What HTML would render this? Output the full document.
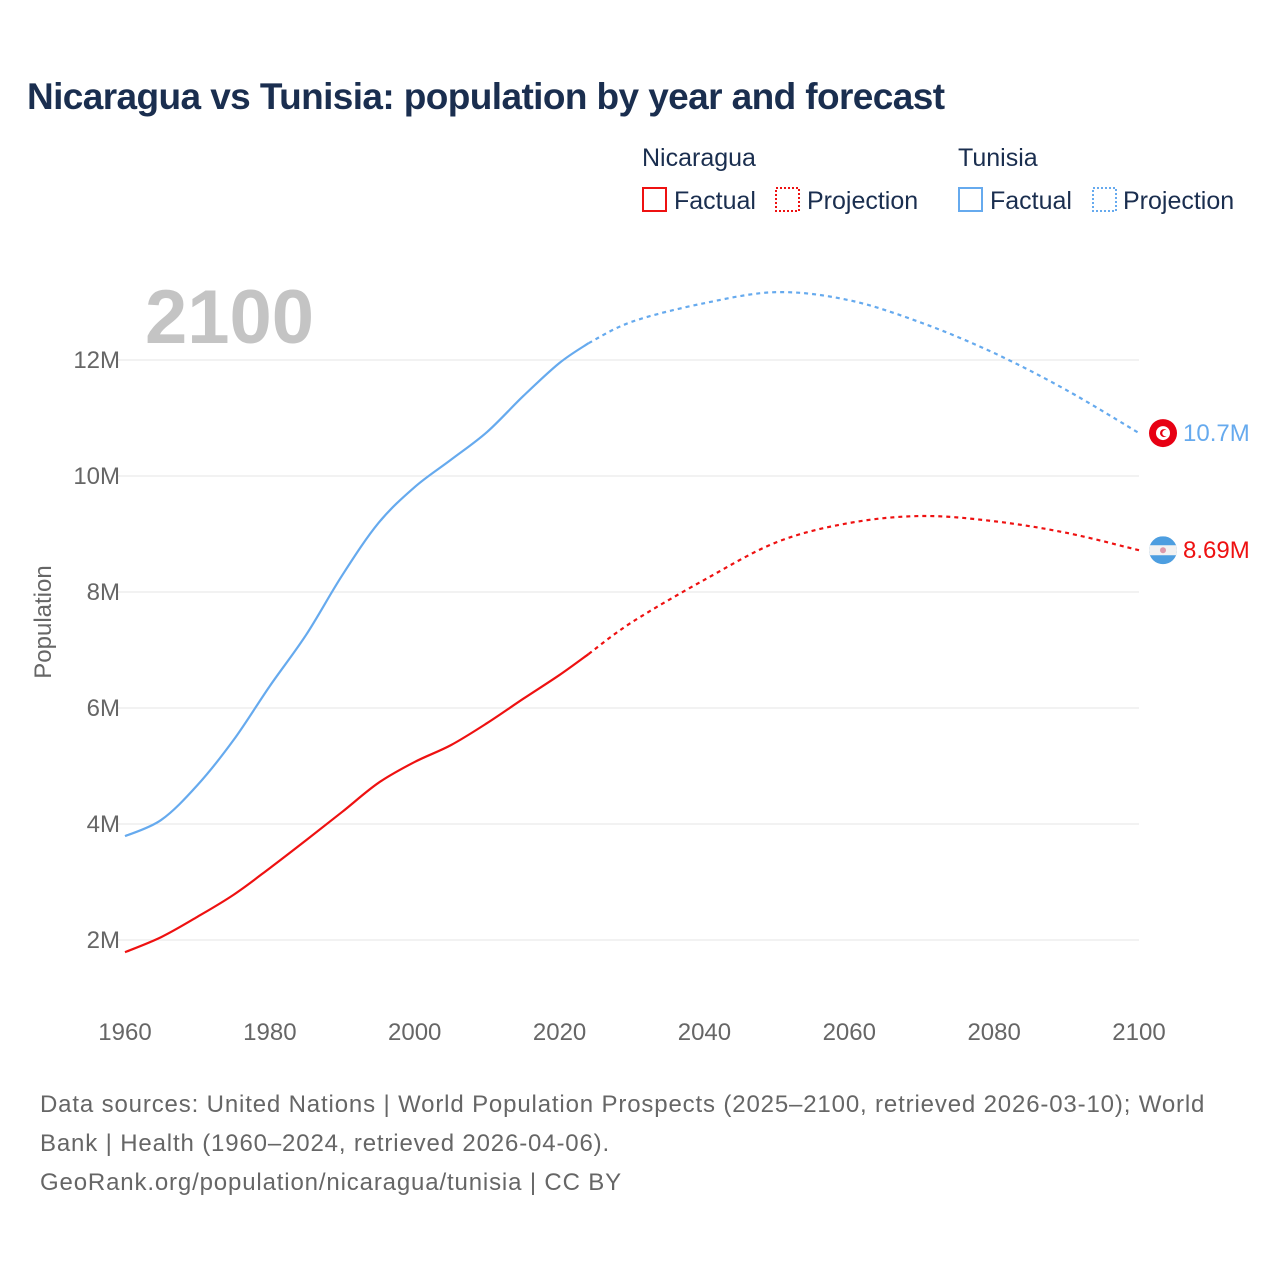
<!DOCTYPE html>
<html><head><meta charset="utf-8"><style>
body{margin:0;background:#fff;font-family:"Liberation Sans",sans-serif;}
#wrap{position:relative;width:1280px;height:1280px;overflow:hidden;}
</style></head><body><div id="wrap">
<svg id="chart" width="1280" height="1280" xmlns="http://www.w3.org/2000/svg">
<text x="27" y="109" font-size="37" font-weight="bold" fill="#1a2e4f" letter-spacing="-0.6">Nicaragua vs Tunisia: population by year and forecast</text>
<g font-size="25" fill="#1a2e4f">
<text x="642" y="166">Nicaragua</text>
<text x="958" y="166">Tunisia</text>
<g><rect x="643" y="188" width="23" height="23" fill="none" stroke="#ee1111" stroke-width="2"/><text x="674" y="209">Factual</text></g>
<g><rect x="776" y="188" width="23" height="23" fill="none" stroke="#ee1111" stroke-width="2" stroke-dasharray="2,2"/><text x="807" y="209">Projection</text></g>
<g><rect x="959" y="188" width="23" height="23" fill="none" stroke="#66aaee" stroke-width="2"/><text x="990" y="209">Factual</text></g>
<g><rect x="1093" y="188" width="23" height="23" fill="none" stroke="#66aaee" stroke-width="2" stroke-dasharray="2,2"/><text x="1123" y="209">Projection</text></g>
</g>
<text x="145" y="343" font-size="76" font-weight="bold" fill="#c4c4c4">2100</text>
<g id="grid"></g><g id="axes"></g><g id="lines"></g><g id="ends"></g>
<text transform="translate(51,622) rotate(-90)" text-anchor="middle" font-size="24" fill="#666">Population</text>
<g font-size="24" fill="#666" letter-spacing="0.85">
<text x="40" y="1112">Data sources: United Nations | World Population Prospects (2025–2100, retrieved 2026-03-10); World</text>
<text x="40" y="1151">Bank | Health (1960–2024, retrieved 2026-04-06).</text>
<text x="40" y="1190">GeoRank.org/population/nicaragua/tunisia | CC BY</text>
</g>
</svg>
<script>
const years=[1960,1965,1970,1975,1980,1985,1990,1995,2000,2005,2010,2015,2020,2024,2030,2040,2050,2060,2070,2080,2090,2100];
const tunisia=[3.79,4.07,4.67,5.45,6.38,7.26,8.29,9.19,9.81,10.28,10.76,11.38,11.95,12.29,12.66,12.98,13.17,13.03,12.64,12.12,11.48,10.74];
const nicaragua=[1.79,2.05,2.40,2.78,3.24,3.72,4.21,4.71,5.07,5.36,5.74,6.16,6.57,6.93,7.48,8.21,8.86,9.19,9.31,9.22,9.02,8.72];
const lastFactualYear=2024;
const yTicks=[2,4,6,8,10,12];
const xTicks=[1960,1980,2000,2020,2040,2060,2080,2100];
const endLabels=["10.7M","8.69M"];
const NS="http://www.w3.org/2000/svg";
const X=y=>125+(y-1960)*(1014/140);
const Y=v=>940-(v-2)*58;
function mk(tag,attrs,parent){const e=document.createElementNS(NS,tag);for(const k in attrs)e.setAttribute(k,attrs[k]);document.getElementById(parent).appendChild(e);return e;}
yTicks.forEach(t=>{
 const l=mk('line',{x1:118,x2:1139,y1:Y(t),y2:Y(t),stroke:'#e6e6e6','stroke-width':1},'grid');
 
 
 const tx=mk('text',{x:120,y:Y(t)+8,'text-anchor':'end','font-size':24,fill:'#666'},'axes');
 tx.textContent=t+'M';
 
 
});
xTicks.forEach(t=>{
 const tx=mk('text',{x:X(t),y:1040,'text-anchor':'middle','font-size':24,fill:'#666'},'axes');
 tx.textContent=t;
 
 
});
function pathOf(pts){
 let d='M'+pts[0][0]+','+pts[0][1];
 for(let i=0;i<pts.length-1;i++){
  const p0=pts[Math.max(0,i-1)],p1=pts[i],p2=pts[i+1],p3=pts[Math.min(pts.length-1,i+2)];
  const c1=[p1[0]+(p2[0]-p0[0])/6,p1[1]+(p2[1]-p0[1])/6],c2=[p2[0]-(p3[0]-p1[0])/6,p2[1]-(p3[1]-p1[1])/6];
  d+=' C'+c1+' '+c2+' '+p2;
 }
 return d;
}
function series(vals,color,name){
 const f=[],p=[];
 years.forEach((y,i)=>{const pt=[X(y),Y(vals[i])];if(y<=lastFactualYear)f.push(pt);if(y>=lastFactualYear)p.push(pt);});
 const a=mk('path',{d:pathOf(f),fill:'none',stroke:color,'stroke-width':2.2},'lines');
 
 
 const b=mk('path',{d:pathOf(p),fill:'none',stroke:color,'stroke-width':2.2,'stroke-dasharray':'4,4'},'lines');
 
 
}
series(tunisia,'#66aaee','tunisia');
series(nicaragua,'#ee1111','nicaragua');
const n=years.length-1;
const ty=Y(tunisia[n]);
const tf=mk('g',{},'ends');


tf.innerHTML=`<circle cx="1163" cy="${ty}" r="14" fill="#e70013"/><circle cx="1163" cy="${ty}" r="7" fill="#fff"/><circle cx="1164" cy="${ty}" r="4" fill="#e70013"/><circle cx="1165.5" cy="${ty}" r="3.2" fill="#fff"/>`;
const tl=mk('text',{x:1183,y:ty+8,'font-size':24,fill:'#66aaee'},'ends');
tl.textContent=endLabels[0];


const ny=Y(nicaragua[n]);
const nf=mk('g',{},'ends');


nf.innerHTML=`<defs><clipPath id="nc"><circle cx="1163" cy="${ny}" r="14"/></clipPath></defs><g clip-path="url(#nc)"><rect x="1149" y="${ny-14}" width="28" height="28" fill="#4d9ee0"/><rect x="1149" y="${ny-5}" width="28" height="10" fill="#f2f2f2"/><circle cx="1163" cy="${ny}" r="3" fill="#d9a"/></g>`;
const nl=mk('text',{x:1183,y:ny+8,'font-size':24,fill:'#ee1111'},'ends');
nl.textContent=endLabels[1];


</script>
</div></body></html>
